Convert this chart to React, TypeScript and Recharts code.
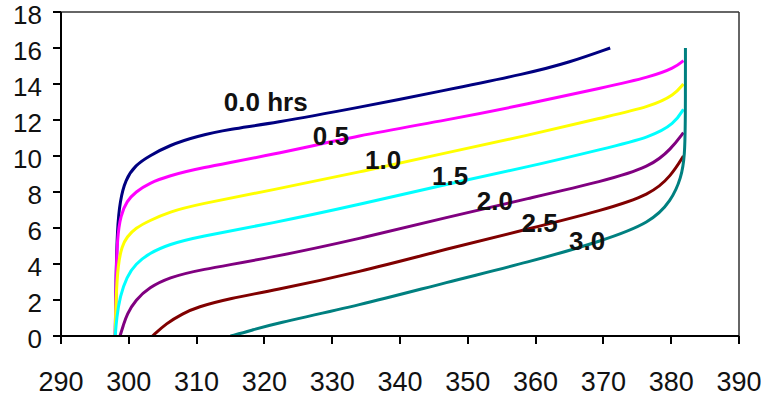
import { LineChart, Line, XAxis, YAxis, ReferenceLine, ReferenceDot } from 'recharts';

type Pt = { x: number; y: number };

const pts = (rows: [number, number][]): Pt[] => rows.map(([x, y]) => ({ x, y }));

// one curve per elapsed time, x, y off the vertical
const hrs00 = pts([
  [298.0, 0], [298.1, 3], [298.3, 6], [298.7, 7.5], [299.5, 8.7], [301, 9.5], [303, 10],
  [306, 10.6], [310, 11.1], [315, 11.5], [321, 11.8], [334, 12.7], [346, 13.6], [359, 14.6],
  [365, 15.2], [371, 16],
]);
const hrs05 = pts([
  [298.0, 0], [298.1, 3], [298.3, 5.5], [298.8, 6.7], [299.7, 7.5], [301, 8], [303, 8.5],
  [306, 8.9], [310, 9.3], [321, 10.05], [334, 11.15], [347, 12.0], [359, 12.9], [370, 13.8],
  [377, 14.4], [380.5, 14.9], [381.8, 15.3],
]);
const hrs10 = pts([
  [298.0, 0], [298.1, 2], [298.4, 4], [299, 5], [299.7, 5.5], [301, 6], [303, 6.4],
  [306, 6.9], [310, 7.3], [321, 8.1], [334, 9.1], [347, 10.2], [359, 11.15], [370, 12.15],
  [377, 12.75], [380.5, 13.4], [381.8, 14.0],
]);
const hrs15 = pts([
  [298.0, 0], [298.2, 1], [298.7, 2.2], [299.7, 3.3], [301, 4.0], [303, 4.6], [306, 5.1],
  [310, 5.5], [321, 6.25], [334, 7.3], [347, 8.45], [359, 9.4], [370, 10.4], [377, 11.05],
  [380.5, 11.8], [381.8, 12.6],
]);
const hrs20 = pts([
  [298.7, 0], [299.2, 0.6], [299.7, 1.2], [301, 2.0], [303, 2.7], [306, 3.25], [310, 3.65],
  [321, 4.35], [334, 5.4], [347, 6.6], [359, 7.65], [370, 8.6], [377, 9.4], [380, 10.4],
  [381.8, 11.3],
]);
const hrs25 = pts([
  [303.5, 0], [305.5, 0.7], [308, 1.25], [310, 1.6], [315, 2.1], [321, 2.5], [334, 3.55],
  [347, 4.85], [359, 5.95], [370, 7.0], [377, 7.85], [380, 8.9], [381.8, 10.0],
]);
const hrs30 = pts([
  [315, 0], [318, 0.3], [321, 0.65], [334, 1.7], [347, 3.0], [359, 4.1], [370, 5.3],
  [377, 6.3], [380, 7.5], [381.5, 8.8], [382, 10], [382.1, 12], [382.1, 16],
]);

const curves = [
  { name: '0.0', data: hrs00, color: '#000080' },
  { name: '0.5', data: hrs05, color: '#ff00ff' },
  { name: '1.0', data: hrs10, color: '#ffff00' },
  { name: '1.5', data: hrs15, color: '#00ffff' },
  { name: '2.0', data: hrs20, color: '#800080' },
  { name: '2.5', data: hrs25, color: '#800000' },
  { name: '3.0', data: hrs30, color: '#008080' },
];

const curveLabels = [
  { text: '0.0 hrs', x: 320.2, y: 13.0 },
  { text: '0.5', x: 329.8, y: 11.1 },
  { text: '1.0', x: 337.5, y: 9.8 },
  { text: '1.5', x: 347.4, y: 8.9 },
  { text: '2.0', x: 354.0, y: 7.5 },
  { text: '2.5', x: 360.6, y: 6.3 },
  { text: '3.0', x: 367.6, y: 5.3 },
];

const xTicks = [290, 300, 310, 320, 330, 340, 350, 360, 370, 380, 390];
const yTicks = [0, 2, 4, 6, 8, 10, 12, 14, 16, 18];

const FONT = '"Liberation Sans", Arial, sans-serif';
const INK = '#111';
const TICK = 8;

// tick props: y (x) sits tickSize + tickMargin beyond the axis line
function XTick({ x, y, payload }: any) {
  const x0 = Math.round(x);
  const axisY = y - TICK - 2;
  return (
    <g>
      <rect x={x0 - 1} y={axisY} width={2} height={TICK} fill="#000" />
      <text x={x} y={y} dy={45} textAnchor="middle" fontFamily={FONT} fontSize={27} fill={INK}>
        {payload.value}
      </text>
    </g>
  );
}

function YTick({ x, y, payload }: any) {
  const y0 = Math.round(y);
  const axisX = x + TICK + 11;
  return (
    <g>
      <rect x={axisX - TICK} y={y0 - 1} width={TICK} height={2} fill="#000" />
      <text x={x} y={y} dy={12} textAnchor="end" fontFamily={FONT} fontSize={26} fill={INK}>
        {payload.value}
      </text>
    </g>
  );
}

export default function App() {
  return (
    <div style={{ position: 'absolute', left: 0, top: 0, width: 761, height: 400, background: '#fff' }}>
      <LineChart width={761} height={400} margin={{ top: 12, right: 22, bottom: 24, left: 11 }}>
        <XAxis
          type="number"
          dataKey="x"
          domain={[290, 390]}
          ticks={xTicks}
          allowDataOverflow
          height={40}
          tickSize={TICK}
          tickMargin={2}
          tick={<XTick />}
          tickLine={false}
          axisLine={{ stroke: '#000', strokeWidth: 2 }}
        />
        <YAxis
          type="number"
          dataKey="y"
          domain={[0, 18]}
          ticks={yTicks}
          allowDataOverflow
          width={50}
          tickSize={TICK}
          tickMargin={11}
          tick={<YTick />}
          tickLine={false}
          axisLine={{ stroke: '#000', strokeWidth: 2 }}
        />
        <ReferenceLine y={18} stroke="#333" strokeWidth={1.5} />
        <ReferenceLine x={390} stroke="#333" strokeWidth={1.5} />
        {curves.map((c) => (
          <Line
            key={c.name}
            data={c.data}
            dataKey="y"
            name={c.name}
            type="basis"
            stroke={c.color}
            strokeWidth={3}
            dot={false}
            activeDot={false}
            isAnimationActive={false}
          />
        ))}
        {curveLabels.map((l) => (
          <ReferenceDot
            key={l.text}
            x={l.x}
            y={l.y}
            r={0}
            ifOverflow="visible"
            shape={(p: any) => (
              <text
                x={p.cx}
                y={p.cy}
                dy={9}
                textAnchor="middle"
                fontFamily={FONT}
                fontSize={26}
                fontWeight="bold"
                fill={INK}
              >
                {l.text}
              </text>
            )}
          />
        ))}
      </LineChart>
    </div>
  );
}
